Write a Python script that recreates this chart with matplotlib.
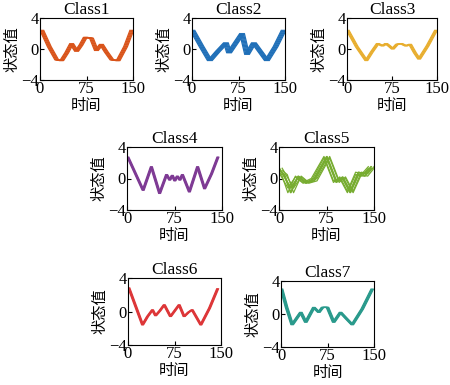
import matplotlib
matplotlib.use("Agg")
import numpy as np
import matplotlib.pyplot as plt

# knot points (time, state value)
class1_t = [0, 12, 24, 32, 40, 48, 56, 63, 70, 80, 88, 96, 104, 113, 123, 135, 145]
class1_v = [2.4, 0.3, -1.4, -1.5, -0.5, 0.7, -0.3, 0.5, 1.5, 1.4, -0.2, 0.6, -0.4, -1.4, -1.5, 0.3, 2.4]
class1_lag = [0, 1.5, 3, 4.5, 6]

class2_t = [0, 14, 28, 41, 54, 59, 70, 80, 88, 99, 110, 120, 134, 147]
class2_v = [2.4, 0.4, -1.5, -0.3, 0.8, -0.5, 0.8, 2.0, -0.7, 0.8, -0.4, -1.5, 0.3, 2.4]
class2_lag = [-3, -1.5, 0, 1.5, 3, 4.5]

class3_t = [0, 15, 31, 40, 50, 58, 64, 69, 75, 82, 89, 97, 104, 112, 119, 133, 147]
class3_v = [2.4, 0.3, -1.5, -0.4, 0.7, 0.4, 0.7, 0.4, 0.0, 0.6, 0.7, 0.4, 0.6, -0.5, -1.3, 0.4, 2.4]
class3_lag = [-1, 0.5, 2, 3.5]

class4_t = [0, 12, 24, 37, 50, 61, 66, 70, 74, 78, 82, 86, 97, 110, 121, 132, 142]
class4_v = [2.7, 0.6, -1.5, 1.5, -1.9, 0.5, -0.2, 0.4, -0.3, 0.3, -0.2, 0.5, -1.7, 1.5, -1.3, 0.6, 2.7]
class4_lag = [0, 1, 2, 3]

class5_t = [0, 8, 18, 30, 42, 55, 75, 90, 100, 112, 125, 135, 145]
class5_a = [1.0, 0.5, -1.8, 0.3, -0.5, 0.0, 2.8, -0.3, 0.0, -1.8, 0.5, 0.3, 1.3]
class5_b = [1.3, 0.2, -1.2, 0.2, -0.6, -0.3, 2.6, -0.5, 0.2, -1.6, 0.8, 0.6, 1.5]
class5_lag = [0, 1, 5, -4]

class6_t = [0, 11, 22, 30, 38, 43, 50, 57, 67, 74, 81, 89, 96, 102, 116, 130, 143]
class6_v = [2.8, 0.6, -1.6, -0.6, 0.2, -0.5, 0.1, 0.8, -0.6, 0.1, 0.8, -0.6, -0.1, 0.2, -1.6, 0.4, 2.7]
class6_lag = [0, 1, 2, 3]

class7_t = [0, 8, 17, 31, 39, 52, 60, 66, 74, 84, 95, 105, 114, 130, 146]
class7_v = [3.0, 0.8, -1.3, 0.2, -1.0, 0.8, 0.2, 0.8, 0.8, -1.0, 0.2, -0.6, -1.3, 0.6, 3.0]
class7_lag = [-1, 0, 1, 2, 3]

titles = ["Class1", "Class2", "Class3", "Class4", "Class5", "Class6", "Class7"]
colors = ["#D95319", "#1F6FB8", "#E8AE2E", "#7E3A94", "#77AC30", "#DD3638", "#2A9A8C"]

# axes boxes in pixels: left, right, top, bottom
boxes = [(40, 133, 18, 80), (192, 285, 18, 80), (347, 437, 18, 80),
         (127, 222, 147, 210), (279, 374, 147, 210),
         (128, 221, 278, 345), (281, 374, 281, 347)]

W, H = 450, 385
fig = plt.figure(figsize=(4.5, 3.85), dpi=100)
num_font = "Liberation Serif"
cjk_font = ["Noto Sans CJK SC", "DejaVu Sans"]

series = [
    [(class1_t, class1_v, class1_lag)],
    [(class2_t, class2_v, class2_lag)],
    [(class3_t, class3_v, class3_lag)],
    [(class4_t, class4_v, class4_lag)],
    [(class5_t, class5_a, class5_lag), (class5_t, class5_b, class5_lag)],
    [(class6_t, class6_v, class6_lag)],
    [(class7_t, class7_v, class7_lag)],
]

for i in range(7):
    l, r, t, b = boxes[i]
    ax = fig.add_axes([l / W, 1 - b / H, (r - l) / W, (b - t) / H])
    for tt, vv, lags in series[i]:
        for lag in lags:
            ax.plot(np.array(tt) + lag, vv, color=colors[i], lw=0.9)
    ax.set_xlim(0, 150)
    ax.set_ylim(-4, 4)
    ax.set_xticks([0, 75, 150])
    ax.set_yticks([-4, 0, 4])
    ax.set_yticklabels(["\u22124", "0", "4"])
    ax.tick_params(direction="in", length=3, width=0.8, pad=1, labelsize=12)
    for lab in ax.get_xticklabels() + ax.get_yticklabels():
        lab.set_fontfamily(num_font)
    for s in ax.spines.values():
        s.set_linewidth(0.8)
    ax.set_title(titles[i], fontfamily=num_font, fontsize=12.5, pad=1)
    ax.set_xlabel("时间", family=cjk_font, fontsize=11, labelpad=0)
    ax.set_ylabel("状态值", family=cjk_font, fontsize=11, labelpad=0)

fig.savefig("out.png", dpi=100)
